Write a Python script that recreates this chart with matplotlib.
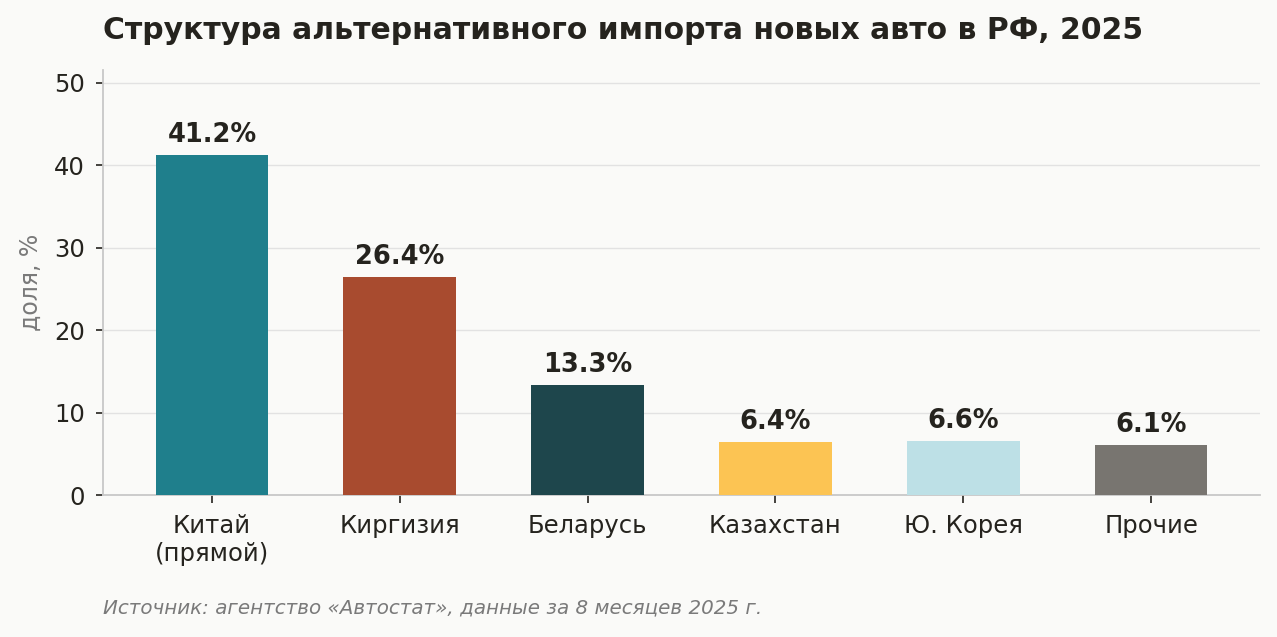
import numpy as np
import matplotlib
matplotlib.use('Agg')
import matplotlib.pyplot as plt

# Данные
categories = ['Китай\n(прямой)', 'Киргизия', 'Беларусь', 'Казахстан', 'Ю. Корея', 'Прочие']
shares = [41.2, 26.4, 13.3, 6.4, 6.6, 6.1]
colors = ['#1f7f8c', '#a84b2f', '#1e464c', '#fcc453', '#bde0e6', '#787570']

bg = '#fafaf8'
text_dark = '#25231e'
grid_col = '#e2e2e2'
spine_col = '#c8c8c8'

plt.rcParams['font.family'] = ['DejaVu Sans']

fig = plt.figure(figsize=(12.77, 6.37), dpi=100, facecolor=bg)
ax = fig.add_axes([0.0807, 0.2229, 0.906, 0.667])
ax.set_facecolor(bg)

x = np.arange(len(categories))
bars = ax.bar(x, shares, width=0.6, color=colors, zorder=3)

for b, v in zip(bars, shares):
    ax.annotate(f'{v:.1f}%', (b.get_x() + b.get_width() / 2, v),
                xytext=(0, 5), textcoords='offset points',
                ha='center', va='bottom', fontsize=18.5, fontweight='bold',
                color=text_dark)

ax.set_ylim(0, max(shares) * 1.25)
ax.set_yticks([0, 10, 20, 30, 40, 50])
ax.set_xticks(x)
ax.set_xticklabels(categories)
ax.tick_params(axis='both', labelsize=17.5, colors=text_dark, length=5, width=1.2)
ax.tick_params(axis='y', pad=8)
ax.tick_params(axis='x', pad=8, length=6)

ax.grid(axis='y', color=grid_col, linewidth=1, zorder=0)
ax.set_axisbelow(True)
for s in ['top', 'right']:
    ax.spines[s].set_visible(False)
for s in ['left', 'bottom']:
    ax.spines[s].set_color(spine_col)
    ax.spines[s].set_linewidth(1.3)

ax.set_ylabel('доля, %', fontsize=17, color='#7a7a7a', labelpad=8)

fig.text(0.0807, 0.952, 'Структура альтернативного импорта новых авто в РФ, 2025',
         fontsize=21.5, fontweight='bold', color=text_dark, ha='left', va='center')
fig.text(0.0807, 0.046, 'Источник: агентство «Автостат», данные за 8 месяцев 2025 г.',
         fontsize=14.3, style='italic', color='#7a7a7a', ha='left', va='center')

fig.savefig('out.png', dpi=100, facecolor=bg)
